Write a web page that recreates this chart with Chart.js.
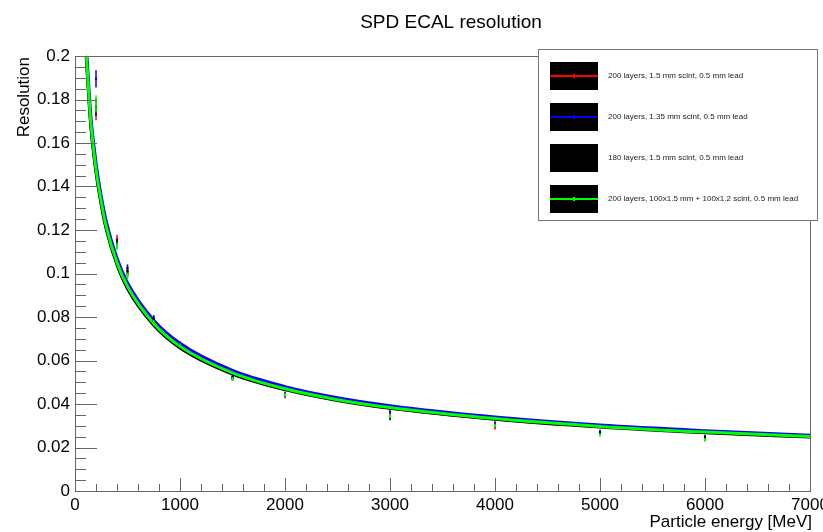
<!DOCTYPE html>
<html>
<head>
<meta charset="utf-8">
<script src="https://cdn.jsdelivr.net/npm/chart.js@4.4.1/dist/chart.umd.min.js"></script>
<style>
  html, body { margin: 0; padding: 0; background: #fff; }
  #wrap { width: 823px; height: 532px; position: relative; }
</style>
</head>
<body>
<div id="wrap"><canvas id="c"></canvas></div>
<script>
// ---- data ----
const chartTitle = "SPD ECAL resolution";
const xTitle = "Particle energy [MeV]";
const yTitle = "Resolution";
const xTickValues = [0, 1000, 2000, 3000, 4000, 5000, 6000, 7000];
const xTickLabels = ["0", "1000", "2000", "3000", "4000", "5000", "6000", "7000"];
const yTickValues = [0, 0.02, 0.04, 0.06, 0.08, 0.1, 0.12, 0.14, 0.16, 0.18, 0.2];
const yTickLabels = ["0", "0.02", "0.04", "0.06", "0.08", "0.1", "0.12", "0.14", "0.16", "0.18", "0.2"];

const seriesNames = [
  "200 layers, 1.5 mm scint, 0.5 mm lead",
  "200 layers, 1.35 mm scint, 0.5 mm lead",
  "180 layers, 1.5 mm scint, 0.5 mm lead",
  "200 layers, 100x1.5 mm + 100x1.2 scint, 0.5 mm lead"
];

// measured points (energy in MeV)
const energies = [200, 400, 500, 750, 1000, 1500, 2000, 3000, 4000, 5000, 6000];
const redRes   = [0.1745, 0.1160, 0.1000, 0.0780, 0.0670, 0.0515, 0.0435, 0.0345, 0.0292, 0.0262, 0.0240];
const blueRes  = [0.1895, 0.1135, 0.1026, 0.0796, 0.0678, 0.0525, 0.0448, 0.0363, 0.0312, 0.0273, 0.0250];
const blackRes = [0.1765, 0.1142, 0.1011, 0.0785, 0.0672, 0.0520, 0.0442, 0.0335, 0.0303, 0.0265, 0.0245];
const greenRes = [0.1780, 0.1126, 0.0988, 0.0773, 0.0668, 0.0515, 0.0442, 0.0343, 0.0301, 0.0258, 0.0235];
const resErr   = [0.0040, 0.0018, 0.0016, 0.0013, 0.0011, 0.0009, 0.0009, 0.0010, 0.0009, 0.0009, 0.0009];

// fitted curves
const curveE   = [100, 150, 200, 250, 300, 400, 500, 750, 1000, 1500, 2000, 2500, 3000, 4000, 5000, 6000, 7000];
const redFit   = [0.2060, 0.1690, 0.1475, 0.1325, 0.1205, 0.1045, 0.0935, 0.0766, 0.0662, 0.0540, 0.0468, 0.0418, 0.0382, 0.0331, 0.0296, 0.0270, 0.0250];
const blueFit  = [0.2110, 0.1730, 0.1510, 0.1355, 0.1235, 0.1070, 0.0958, 0.0785, 0.0679, 0.0554, 0.0480, 0.0429, 0.0392, 0.0340, 0.0303, 0.0277, 0.0256];
const blackFit = [0.2050, 0.1680, 0.1465, 0.1315, 0.1198, 0.1040, 0.0930, 0.0762, 0.0658, 0.0538, 0.0466, 0.0416, 0.0380, 0.0330, 0.0294, 0.0268, 0.0248];
const greenFit = [0.2070, 0.1700, 0.1480, 0.1330, 0.1210, 0.1050, 0.0940, 0.0770, 0.0665, 0.0543, 0.0470, 0.0420, 0.0384, 0.0333, 0.0297, 0.0271, 0.0251];

const colors = ["#ff0000", "#0000ff", "#000000", "#00ff00"];
const fits = [redFit, blueFit, blackFit, greenFit];
const points = [redRes, blueRes, blackRes, greenRes];

const pairs = (xs, ys) => xs.map((x, i) => ({ x: x, y: ys[i] }));

// Chart.js draws higher "order" first, so later series get lower order (on top)
const datasets = [];
fits.forEach((f, i) => {
  datasets.push({
    type: 'scatter', data: pairs(curveE, f), showLine: true,
    borderColor: colors[i], borderWidth: 3, pointRadius: 0,
    cubicInterpolationMode: 'monotone', fill: false,
    order: 20 - i
  });
});
points.forEach((p, i) => {
  datasets.push({
    type: 'scatter', data: pairs(energies, p), showLine: false,
    borderColor: colors[i], backgroundColor: colors[i],
    pointStyle: 'rect', pointRadius: 1.5, borderWidth: 0,
    errors: resErr,
    order: 10 - i
  });
});

const FONT = '"Liberation Sans", Arial, Helvetica, sans-serif';

const rootPlugin = {
  id: 'rootStyle',
  beforeDraw(chart) {
    const ctx = chart.ctx;
    ctx.save();
    ctx.fillStyle = '#fff';
    ctx.fillRect(0, 0, chart.width, chart.height);
    ctx.restore();
  },
  afterDatasetDraw(chart, args) {
    const ds = chart.data.datasets[args.index];
    if (!ds.errors) return;
    const ctx = chart.ctx, xs = chart.scales.x, ys = chart.scales.y;
    ctx.save();
    ctx.strokeStyle = ds.borderColor;
    ctx.lineWidth = 1.5;
    ds.data.forEach((pt, i) => {
      const px = xs.getPixelForValue(pt.x);
      const y1 = ys.getPixelForValue(pt.y - ds.errors[i]);
      const y2 = ys.getPixelForValue(pt.y + ds.errors[i]);
      ctx.beginPath();
      ctx.moveTo(px, y1); ctx.lineTo(px, y2);
      ctx.stroke();
    });
    ctx.restore();
  },
  afterDraw(chart) {
    const ctx = chart.ctx, xs = chart.scales.x, ys = chart.scales.y;
    const a = chart.chartArea;
    ctx.save();
    // frame
    ctx.strokeStyle = '#666';
    ctx.lineWidth = 1;
    ctx.strokeRect(Math.round(a.left) + 0.5, Math.round(a.top) + 0.5,
                   Math.round(a.right - a.left), Math.round(a.bottom - a.top));
    // x ticks (inside)
    ctx.beginPath();
    for (let v = 0; v <= 7000; v += 200) {
      const px = Math.round(xs.getPixelForValue(v)) + 0.5;
      const len = (v % 1000 === 0) ? 13 : 7;
      ctx.moveTo(px, a.bottom); ctx.lineTo(px, a.bottom - len);
    }
    // y ticks (inside)
    for (let k = 0; k <= 40; k++) {
      const v = k * 0.005;
      const py = Math.round(ys.getPixelForValue(v)) + 0.5;
      const len = (k % 4 === 0) ? 22 : 11;
      ctx.moveTo(a.left, py); ctx.lineTo(a.left + len, py);
    }
    ctx.stroke();

    // tick labels
    ctx.fillStyle = '#000';
    ctx.font = '17px ' + FONT;
    ctx.textAlign = 'center'; ctx.textBaseline = 'top';
    xTickValues.forEach((v, i) => {
      ctx.fillText(xTickLabels[i], xs.getPixelForValue(v), a.bottom + 6);
    });
    ctx.textAlign = 'right'; ctx.textBaseline = 'middle';
    yTickValues.forEach((v, i) => {
      ctx.fillText(yTickLabels[i], a.left - 5, ys.getPixelForValue(v));
    });

    // axis titles
    ctx.textAlign = 'right'; ctx.textBaseline = 'alphabetic';
    ctx.fillText(xTitle, a.right + 2, 527);
    ctx.save();
    ctx.translate(29, a.top + 1);
    ctx.rotate(-Math.PI / 2);
    ctx.textAlign = 'right';
    ctx.fillText(yTitle, 0, 0);
    ctx.restore();

    // chart title
    ctx.font = '19px ' + FONT;
    ctx.textAlign = 'center'; ctx.textBaseline = 'alphabetic';
    ctx.fillText(chartTitle, 451, 28);

    // legend
    const lx = 538.5, ly = 49.5, lw = 279, lh = 171;
    ctx.fillStyle = '#fff';
    ctx.fillRect(lx, ly, lw, lh);
    ctx.strokeStyle = '#777';
    ctx.lineWidth = 1;
    ctx.strokeRect(lx, ly, lw, lh);
    ctx.font = '8px ' + FONT;
    ctx.textAlign = 'left'; ctx.textBaseline = 'middle';
    seriesNames.forEach((name, i) => {
      const cy = 76 + i * 41;
      ctx.fillStyle = '#000';
      ctx.fillRect(550, cy - 14, 48, 28);
      ctx.strokeStyle = colors[i];
      ctx.lineWidth = 2;
      ctx.beginPath();
      ctx.moveTo(550, cy); ctx.lineTo(598, cy);
      ctx.moveTo(574, cy - 2); ctx.lineTo(574, cy + 2);
      ctx.stroke();
      ctx.fillStyle = '#222';
      ctx.fillText(name, 608, cy);
    });
    ctx.restore();
  }
};

new Chart(document.getElementById('c'), {
  type: 'scatter',
  data: { datasets: datasets },
  options: {
    responsive: true,
    maintainAspectRatio: false,
    animation: false,
    layout: { padding: { left: 75, right: 13, top: 56, bottom: 41 } },
    scales: {
      x: { type: 'linear', min: 0, max: 7000, display: false },
      y: { type: 'linear', min: 0, max: 0.2, display: false }
    },
    plugins: { legend: { display: false }, tooltip: { enabled: false }, title: { display: false } }
  },
  plugins: [rootPlugin]
});
</script>
</body>
</html>
